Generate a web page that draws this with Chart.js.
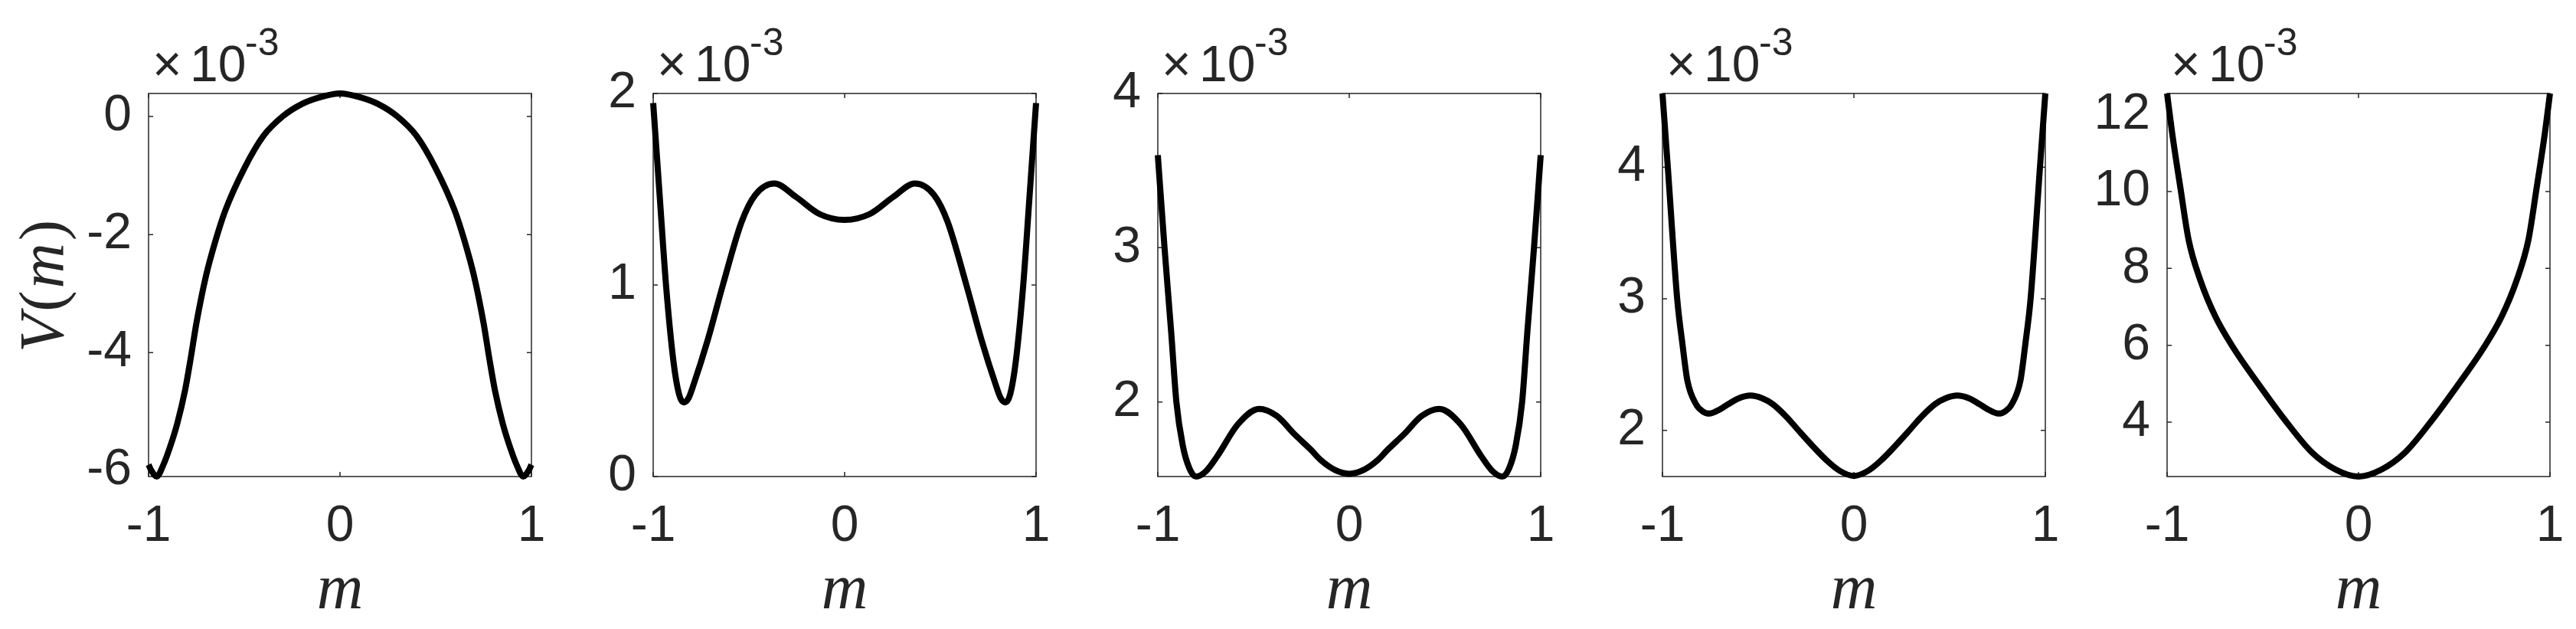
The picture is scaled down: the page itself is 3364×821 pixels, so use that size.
<!DOCTYPE html>
<html>
<head>
<meta charset="utf-8">
<script src="https://cdn.jsdelivr.net/npm/chart.js@4.4.1/dist/chart.umd.min.js"></script>
<style>
  html, body { margin: 0; padding: 0; background: #fff; }
  #wrap { position: relative; width: 3364px; height: 821px; overflow: hidden; }
  .panel { position: absolute; top: 0; width: 720px; height: 821px; }
</style>
</head>
<body>
<div id="wrap"></div>
<script>
// m on the x axis, V(m) in units of 1e-3
const m1 = [-1, -0.985, -0.957, -0.925, -0.89, -0.85, -0.81, -0.78, -0.75, -0.7, -0.65, -0.6, -0.5, -0.4, -0.3, -0.2, -0.1, 0,
            0.1, 0.2, 0.3, 0.4, 0.5, 0.6, 0.65, 0.7, 0.75, 0.78, 0.81, 0.85, 0.89, 0.925, 0.957, 0.985, 1];
const v1 = [-5.9, -6.0, -6.1, -5.92, -5.62, -5.2, -4.65, -4.1, -3.5, -2.7, -2.1, -1.6, -0.88, -0.33, 0.0, 0.21, 0.33, 0.39,
            0.33, 0.21, 0.0, -0.33, -0.88, -1.6, -2.1, -2.7, -3.5, -4.1, -4.65, -5.2, -5.62, -5.92, -6.1, -6.0, -5.9];

const m2 = [-1, -0.965, -0.933, -0.894, -0.865, -0.841, -0.815, -0.789, -0.716, -0.636, -0.538, -0.467, -0.367, -0.254, -0.13, 0,
            0.13, 0.254, 0.367, 0.467, 0.538, 0.636, 0.716, 0.789, 0.815, 0.841, 0.865, 0.894, 0.933, 0.965, 1];
const v2 = [1.95, 1.45, 1.0, 0.6, 0.43, 0.387, 0.41, 0.48, 0.71, 1.0, 1.33, 1.47, 1.53, 1.46, 1.37, 1.34,
            1.37, 1.46, 1.53, 1.47, 1.33, 1.0, 0.71, 0.48, 0.41, 0.387, 0.43, 0.6, 1.0, 1.45, 1.95];

const m3 = [-1, -0.965, -0.93, -0.903, -0.87, -0.835, -0.8, -0.75, -0.689, -0.582, -0.471, -0.379, -0.285, -0.2, -0.15, -0.075, 0,
            0.075, 0.15, 0.2, 0.285, 0.379, 0.471, 0.582, 0.689, 0.75, 0.8, 0.835, 0.87, 0.903, 0.93, 0.965, 1];
const v3 = [3.6, 3.0, 2.45, 2.0, 1.72, 1.57, 1.517, 1.55, 1.65, 1.855, 1.955, 1.91, 1.79, 1.69, 1.625, 1.56, 1.535,
            1.56, 1.625, 1.69, 1.79, 1.91, 1.955, 1.855, 1.65, 1.55, 1.517, 1.57, 1.72, 2.0, 2.45, 3.0, 3.6];

const m4 = [-1, -0.972, -0.923, -0.895, -0.87, -0.825, -0.79, -0.755, -0.7, -0.656, -0.6, -0.54, -0.48, -0.424, -0.35, -0.28, -0.14, -0.07, 0,
            0.07, 0.14, 0.28, 0.35, 0.424, 0.48, 0.54, 0.6, 0.656, 0.7, 0.755, 0.79, 0.825, 0.87, 0.895, 0.923, 0.972, 1];
const v4 = [4.56, 4.0, 3.0, 2.65, 2.38, 2.2, 2.145, 2.128, 2.16, 2.2, 2.245, 2.265, 2.245, 2.2, 2.1, 1.985, 1.77, 1.69, 1.655,
            1.69, 1.77, 1.985, 2.1, 2.2, 2.245, 2.265, 2.245, 2.2, 2.16, 2.128, 2.145, 2.2, 2.38, 2.65, 3.0, 4.0, 4.56];

const m5 = [-1, -0.974, -0.93, -0.887, -0.826, -0.748, -0.652, -0.521, -0.382, -0.243, -0.121, 0,
            0.121, 0.243, 0.382, 0.521, 0.652, 0.748, 0.826, 0.887, 0.93, 0.974, 1];
const v5 = [12.55, 11.54, 10.08, 8.73, 7.69, 6.75, 5.92, 4.98, 4.04, 3.21, 2.77, 2.585,
            2.77, 3.21, 4.04, 4.98, 5.92, 6.75, 7.69, 8.73, 10.08, 11.54, 12.55];

// axis limits and ticks for each panel (y in units of 1e-3)
const yMin = [-6.10, 0, 1.517, 1.65, 2.585];
const yMax = [0.39, 2, 4.0, 4.56, 12.55];
const yTicks = [[-6, -4, -2, 0], [0, 1, 2], [2, 3, 4], [2, 3, 4], [4, 6, 8, 10, 12]];
const xTicks = [-1, 0, 1];
const exponent = '-3';
const xTitle = 'm';

const mSets = [m1, m2, m3, m4, m5];
const vSets = [v1, v2, v3, v4, v5];

const ink = '#262626';
const panelStep = 659;
const canvasW = 720, canvasH = 821;
const axLeft = 194, axTop = 122, axBottom = 622, axWidth = 500;

const matlabAxes = {
  id: 'matlabAxes',
  beforeDatasetsDraw(chart) {
    const { ctx, chartArea: a, scales: { x, y } } = chart;
    const t = 6;
    ctx.save();
    ctx.strokeStyle = ink;
    ctx.lineWidth = 1.5;
    ctx.strokeRect(a.left, a.top, a.right - a.left, a.bottom - a.top);
    ctx.beginPath();
    y.ticks.forEach(tk => {
      const py = y.getPixelForValue(tk.value);
      ctx.moveTo(a.left, py); ctx.lineTo(a.left + t, py);
      ctx.moveTo(a.right, py); ctx.lineTo(a.right - t, py);
    });
    x.ticks.forEach(tk => {
      const px = x.getPixelForValue(tk.value);
      ctx.moveTo(px, a.bottom); ctx.lineTo(px, a.bottom - t);
      ctx.moveTo(px, a.top); ctx.lineTo(px, a.top + t);
    });
    ctx.stroke();
    ctx.restore();
  },
  afterDraw(chart) {
    const { ctx, chartArea: a } = chart;
    ctx.save();
    ctx.fillStyle = ink;
    ctx.textBaseline = 'alphabetic';
    ctx.textAlign = 'left';
    // x10^-3 multiplier above the axes
    ctx.font = '66px "Liberation Sans", Arial, sans-serif';
    ctx.fillText('\u00d7', a.left + 5, 106);
    ctx.fillText('10', a.left + 54, 106);
    ctx.font = '50px "Liberation Sans", Arial, sans-serif';
    ctx.fillText(exponent, a.left + 126, 72);
    // x axis title
    ctx.font = 'italic 84px "Liberation Serif", "Times New Roman", serif';
    ctx.textAlign = 'center';
    ctx.fillText(xTitle, (a.left + a.right) / 2, 794);
    // y axis title, first panel only
    if (chart.options.plugins.matlabAxes.yTitle) {
      ctx.translate(82, (a.top + a.bottom) / 2);
      ctx.rotate(-Math.PI / 2);
      const parts = [['V', 'italic '], ['(', ''], ['m', 'italic '], [')', '']];
      const fontFor = s => s + '82px "Liberation Serif", "Times New Roman", serif';
      let total = 0;
      parts.forEach(p => { ctx.font = fontFor(p[1]); total += ctx.measureText(p[0]).width + 3; });
      let cx = -total / 2;
      ctx.textAlign = 'left';
      parts.forEach(p => {
        ctx.font = fontFor(p[1]);
        ctx.fillText(p[0], cx, 0);
        cx += ctx.measureText(p[0]).width + 3;
      });
    }
    ctx.restore();
  }
};

// stop Chart.js from shrinking the plot box to make room for edge labels
const noScalePadding = s => { s.paddingLeft = 0; s.paddingRight = 0; s.paddingTop = 0; s.paddingBottom = 0; };

const wrap = document.getElementById('wrap');
mSets.forEach((ms, i) => {
  const div = document.createElement('div');
  div.className = 'panel';
  div.style.left = (panelStep * i) + 'px';
  const canvas = document.createElement('canvas');
  canvas.width = canvasW;
  canvas.height = canvasH;
  div.appendChild(canvas);
  wrap.appendChild(div);

  const points = ms.map((m, k) => ({ x: m, y: vSets[i][k] }));
  const tickFont = { family: '"Liberation Sans", Arial, sans-serif', size: 66 };

  new Chart(canvas.getContext('2d'), {
    type: 'scatter',
    data: {
      datasets: [{
        data: points,
        showLine: true,
        borderColor: '#000',
        borderWidth: 8,
        pointRadius: 0,
        cubicInterpolationMode: 'monotone',
        clip: false
      }]
    },
    options: {
      responsive: false,
      devicePixelRatio: 1,
      animation: false,
      events: [],
      layout: { padding: { left: 0, top: axTop, right: canvasW - axLeft - axWidth, bottom: 0 } },
      plugins: {
        legend: { display: false },
        tooltip: { enabled: false },
        matlabAxes: { yTitle: i === 0 }
      },
      scales: {
        x: {
          type: 'linear',
          min: -1,
          max: 1,
          grid: { display: false, drawTicks: false },
          border: { display: false },
          ticks: { color: ink, font: tickFont, padding: 26, maxRotation: 0 },
          afterBuildTicks: s => { s.ticks = xTicks.map(v => ({ value: v })); },
          afterFit: s => { s.height = canvasH - axBottom; noScalePadding(s); }
        },
        y: {
          type: 'linear',
          min: yMin[i],
          max: yMax[i],
          grid: { display: false, drawTicks: false },
          border: { display: false },
          ticks: { color: ink, font: tickFont, padding: 22, callback: v => String(v) },
          afterBuildTicks: s => { s.ticks = yTicks[i].map(v => ({ value: v })); },
          afterFit: s => { s.width = axLeft; noScalePadding(s); }
        }
      }
    },
    plugins: [matlabAxes]
  });
});
</script>
</body>
</html>
